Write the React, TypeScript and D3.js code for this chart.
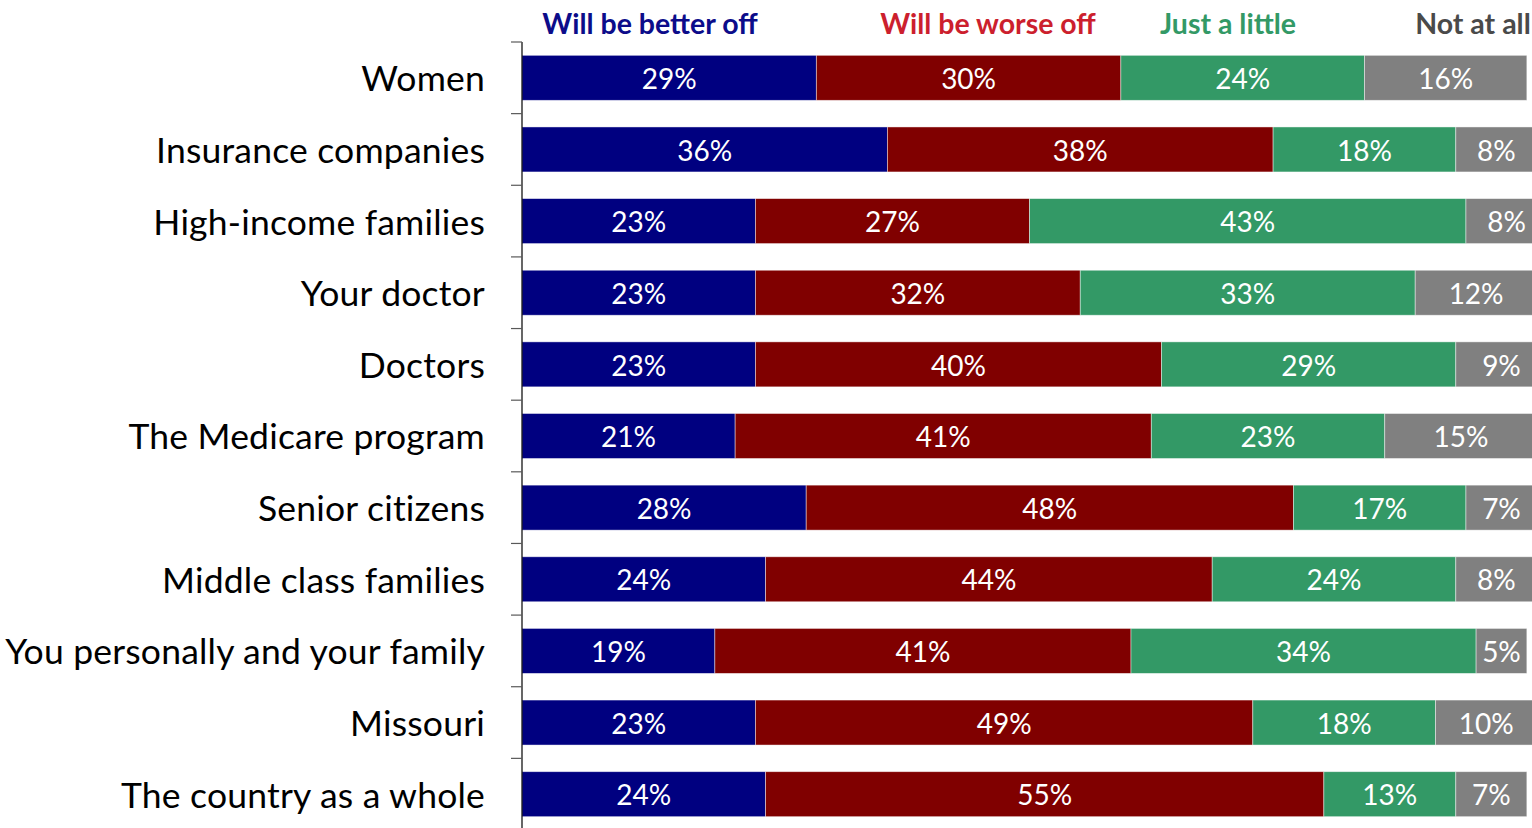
import React from "react";
import * as d3 from "d3";

const categories = [
  "Women",
  "Insurance companies",
  "High-income families",
  "Your doctor",
  "Doctors",
  "The Medicare program",
  "Senior citizens",
  "Middle class families",
  "You personally and your family",
  "Missouri",
  "The country as a whole",
];

const seriesNames = ["Will be better off", "Will be worse off", "Just a little", "Not at all"];

const betterOff = [29, 36, 23, 23, 23, 21, 28, 24, 19, 23, 24];
const worseOff = [30, 38, 27, 32, 40, 41, 48, 44, 41, 49, 55];
const justALittle = [24, 18, 43, 33, 29, 23, 17, 24, 34, 18, 13];
const notAtAll = [16, 8, 8, 12, 9, 15, 7, 8, 5, 10, 7];

const barColors = ["#000080", "#800000", "#339966", "#808080"];
const legendColors = ["#0c0c8a", "#cc1f2e", "#339966", "#4a4a4a"];
const legendCenters = [650, 988, 1228, 1473];

const W = 1532;
const H = 828;

export default function App() {
  const series = [betterOff, worseOff, justALittle, notAtAll];
  const x = d3.scaleLinear().domain([0, 100]).range([522, 1537]);
  const y = d3
    .scaleBand<string>()
    .domain(categories)
    .range([42, 830])
    .paddingInner(0.372)
    .paddingOuter(0.186);
  const step = y.step();
  const tickYs = d3.range(categories.length + 1).map((i) => 42 + i * step);

  const rows = categories.map((c, i) => {
    let acc = 0;
    return series.map((s, k) => {
      const x0 = acc;
      acc += s[i];
      return { cat: c, k, v: s[i], x0, x1: acc };
    });
  });

  const font = "Lato, 'Open Sans', sans-serif";

  return (
    <svg
      width={W}
      height={H}
      style={{ position: "absolute", left: 0, top: 0, background: "#fff" }}
      fontFamily={font}
    >
      {/* legend */}
      {seriesNames.map((n, k) => (
        <text
          key={n}
          x={legendCenters[k]}
          y={34}
          textAnchor="middle"
          fontWeight="bold"
          fontSize={28.5}
          fill={legendColors[k]}
        >
          {n}
        </text>
      ))}
      {/* bars */}
      {rows.map((segs, i) =>
        segs.map((d) => (
          <rect
            key={d.cat + d.k}
            x={x(d.x0)}
            y={y(d.cat)!}
            width={x(d.x1) - x(d.x0)}
            height={y.bandwidth()}
            fill={barColors[d.k]}
            stroke="#ffffff"
            strokeOpacity={0.55}
            strokeWidth={0.8}
          />
        ))
      )}
      {/* value labels */}
      {rows.map((segs) =>
        segs.map((d) => (
          <text
            key={"t" + d.cat + d.k}
            x={(x(d.x0) + x(d.x1)) / 2}
            y={y(d.cat)! + y.bandwidth() / 2}
            dy="0.4em"
            textAnchor="middle"
            fontSize={28}
            fill="#ffffff"
          >
            {d.v + "%"}
          </text>
        ))
      )}
      {/* axis */}
      <line x1={522} x2={522} y1={42} y2={830} stroke="#000" strokeWidth={1.2} />
      {tickYs.map((t, i) => (
        <line key={i} x1={511} x2={522} y1={t} y2={t} stroke="#595959" strokeWidth={1.2} />
      ))}
      {/* category labels */}
      {categories.map((c) => (
        <text
          key={c}
          x={485}
          y={y(c)! + y.bandwidth() / 2}
          dy="0.38em"
          textAnchor="end"
          fontSize={35.5}
          letterSpacing={0.2}
          fill="#000"
        >
          {c}
        </text>
      ))}
    </svg>
  );
}
